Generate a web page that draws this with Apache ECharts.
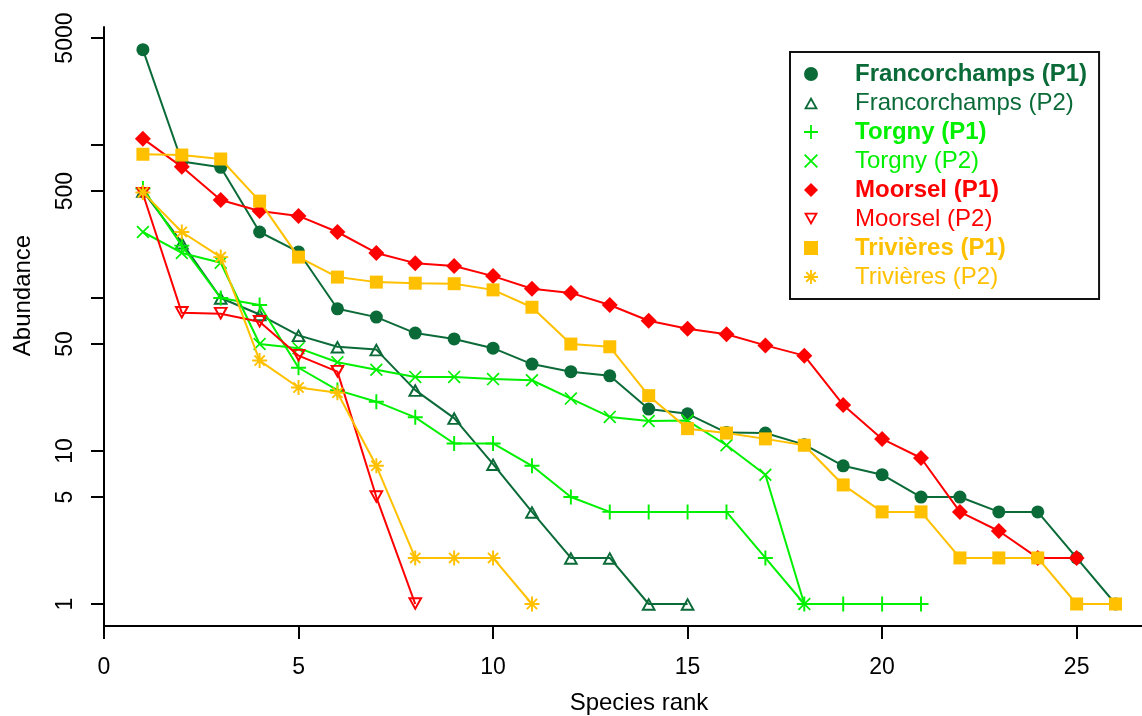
<!DOCTYPE html>
<html>
<head>
<meta charset="utf-8">
<script src="https://cdn.jsdelivr.net/npm/echarts@6/dist/echarts.min.js"></script>
<style>
html,body{margin:0;padding:0;background:#fff;}
#chart{width:1142px;height:716px;}
</style>
</head>
<body>
<div id="chart"></div>
<script>
// ---- data (abundance by species rank) ----
const seriesNames = [
  'Francorchamps (P1)', 'Francorchamps (P2)',
  'Torgny (P1)', 'Torgny (P2)',
  'Moorsel (P1)', 'Moorsel (P2)',
  'Trivières (P1)', 'Trivières (P2)'
];
const francorchampsP1 = [4200, 780, 715, 270, 200, 85, 75, 59, 54, 47, 37, 33, 31, 18.8, 17.5, 13.2, 13.1, 11, 8, 7, 5, 5, 4, 4, 2, 1];
const francorchampsP2 = [500, 230, 100, 78, 57, 48, 46, 25, 16.4, 8.2, 4, 2, 2, 1, 1];
const torgnyP1 = [520, 220, 100, 90, 35, 25, 21, 16.6, 11.2, 11.2, 8, 5, 4, 4, 4, 4, 2, 1, 1, 1, 1];
const torgnyP2 = [270, 197, 170, 50, 47, 38, 34, 30.5, 30.5, 29.5, 29, 22, 16.7, 15.7, 15.8, 10.9, 7, 1];
const moorselP1 = [1100, 720, 437, 370, 344, 270, 197, 169, 162, 139, 115, 108, 90, 71, 63, 58, 49, 42, 20, 12, 9, 4, 3, 2, 2];
const moorselP2 = [480, 80, 79, 70, 42, 33, 5, 1];
const trivieresP1 = [870, 860, 810, 430, 185, 137, 127, 125, 124, 113, 87, 50, 48, 23, 14, 13.1, 12, 10.9, 6, 4, 4, 2, 2, 2, 1, 1];
const trivieresP2 = [490, 270, 185, 39, 26, 24, 8, 2, 2, 2, 1];

const xTickValues = [0, 5, 10, 15, 20, 25];
const yTickValues = [1, 5, 10, 50, 100, 500, 1000, 5000];
const yLabelValues = [1, 5, 10, 50, 500, 5000];

const seriesValues = [francorchampsP1, francorchampsP2, torgnyP1, torgnyP2, moorselP1, moorselP2, trivieresP1, trivieresP2];

// ---- styling ----
const DARK = '#0B6B38', LIME = '#00F000', RED = '#FF0000', GOLD = '#FFC000';
const colors = [DARK, DARK, LIME, LIME, RED, RED, GOLD, GOLD];
const PLUS = 'path://M4.35,0H5.65V4.35H10V5.65H5.65V10H4.35V5.65H0V4.35H4.35Z';
const CROSS = 'path://M0.96,0.04L9.96,9.04L9.04,9.96L0.04,0.96Z M9.96,0.96L0.96,9.96L0.04,9.04L9.04,0.04Z';
const STAR = 'path://M4.35,0H5.65V4.35H10V5.65H5.65V10H4.35V5.65H0V4.35H4.35Z M2.06,1.14L8.86,7.94L7.94,8.86L1.14,2.06Z M8.86,2.06L2.06,8.86L1.14,7.94L7.94,1.14Z';
const TRI_UP = 'path://M5,0L10,9L0,9Z M5,2.68L2.21,7.7L7.79,7.7Z';
const TRI_DOWN = 'path://M5,9L10,0L0,0Z M5,6.32L2.21,1.3L7.79,1.3Z';
const symbols = ['circle', TRI_UP, PLUS, CROSS, 'diamond', TRI_DOWN, 'rect', STAR];
const symbolSizes = [13, 15, 15, 13, 16, 15, 13, 15];

const FONT = '"Liberation Sans", Arial, Helvetica, sans-serif';

const chart = echarts.init(document.getElementById('chart'), null, {renderer: 'canvas'});

const series = seriesNames.map((name, i) => ({
  name: name,
  type: 'line',
  data: seriesValues[i].map((v, k) => [k + 1, v]),
  symbol: symbols[i],
  symbolSize: symbolSizes[i],
  symbolKeepAspect: true,
  showAllSymbol: true,
  lineStyle: {color: colors[i], width: 2},
  itemStyle: {color: colors[i], borderWidth: 0},
  emphasis: {disabled: true},
  z: 2 + i
}));

const option = {
  animation: false,
  backgroundColor: '#fff',
  textStyle: {fontFamily: FONT},
  grid: {left: 104, top: 27, width: 1038, height: 599, containLabel: false, outerBoundsMode: 'none'},
  xAxis: {
    type: 'value', min: 0, max: 26.68,
    name: 'Species rank', nameLocation: 'middle', nameGap: 65,
    nameTextStyle: {fontSize: 24, color: '#000', fontFamily: FONT, padding: [0, 0, 0, 32]},
    axisLine: {show: true, lineStyle: {color: '#000', width: 2}},
    axisTick: {show: true, length: 13, lineStyle: {color: '#000', width: 2}, customValues: xTickValues},
    axisLabel: {fontSize: 23, color: '#000', margin: 30, fontFamily: FONT, customValues: xTickValues,
      formatter: v => String(v)},
    splitLine: {show: false}
  },
  yAxis: {
    type: 'log', logBase: 10, min: 0.718, max: 5906,
    name: 'Abundance', nameLocation: 'middle', nameGap: 69,
    nameTextStyle: {fontSize: 24, color: '#000', fontFamily: FONT, padding: [0, 0, 0, 62]},
    axisLine: {show: true, lineStyle: {color: '#000', width: 2}},
    axisTick: {show: true, length: 13, lineStyle: {color: '#000', width: 2}, customValues: yTickValues},
    axisLabel: {fontSize: 23, color: '#000', margin: 27, rotate: 90, fontFamily: FONT, customValues: yLabelValues,
      formatter: v => String(Math.round(v))},
    splitLine: {show: false},
    minorTick: {show: false}
  },
  legend: {
    orient: 'vertical',
    left: 790, top: 52,
    borderColor: '#111', borderWidth: 2,
    padding: [10, 12, 10, 14],
    itemWidth: 14, itemHeight: 14, itemGap: 5,
    selectedMode: false,
    textStyle: {fontSize: 24, lineHeight: 24, fontFamily: FONT, padding: [0, 0, 0, 32]},
    data: seriesNames.map((name, i) => ({
      name: name,
      icon: symbols[i],
      itemStyle: {color: colors[i], borderWidth: 0},
      textStyle: {color: colors[i], fontWeight: i % 2 === 0 ? 'bold' : 'normal'}
    }))
  },
  series: series
};

chart.setOption(option);
</script>
</body>
</html>
